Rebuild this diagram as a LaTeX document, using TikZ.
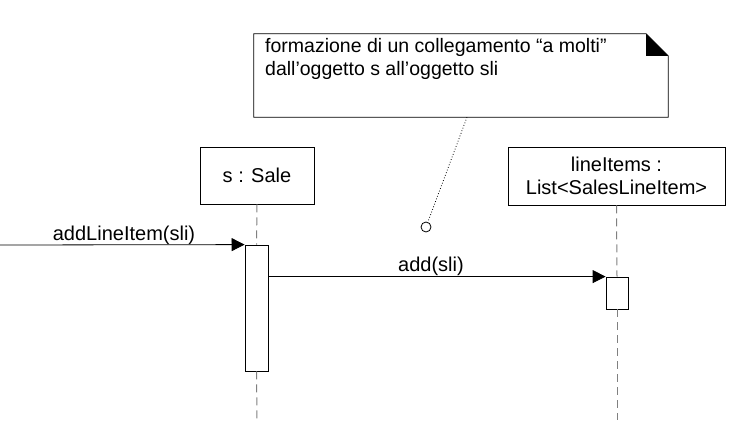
\documentclass[tikz,border=0pt]{standalone}
\usepackage{fontspec}
\setmainfont{Liberation Sans}
\usetikzlibrary{arrows.meta}
\begin{document}
\begin{tikzpicture}[x=1pt,y=-1pt,
  box/.style={draw,line width=0.8pt,fill=white,inner sep=0pt,align=center,font=\fontsize{20}{23}\selectfont},
  actbox/.style={draw,line width=0.8pt,fill=white,inner sep=0pt},
  life/.style={draw=gray,dash pattern=on 8pt off 5pt,line width=1pt},
  msg/.style={line width=0.8pt,-{Triangle[length=13pt,width=13pt]}},
  lbl/.style={font=\fontsize{20}{23}\selectfont,inner sep=0pt},
  notetxt/.style={font=\fontsize{19.5}{23}\selectfont,align=left,inner sep=0pt}]
\useasboundingbox (0,0) rectangle (733,428);
% objects
\node[box,minimum width=114pt,minimum height=57pt] (sale) at (257,175.5) {s : Sale};
\node[box,minimum width=217pt,minimum height=58pt] (li) at (616.5,176) {lineItems :\\List<SalesLineItem>};
% activations
\node[actbox,minimum width=23pt,minimum height=126pt] (act1) at (256.5,308) {};
\node[actbox,minimum width=22pt,minimum height=32pt] (act2) at (617,293) {};
\coordinate (l1end) at (257,420);
\coordinate (l2end) at (617,420);
% lifelines
\draw[life] (sale.south) -- (act1.north);
\draw[life] (act1.south) -- (l1end);
\draw[life] (li.south) -- (act2.north);
\draw[life] (act2.south) -- (l2end);
% messages
\coordinate (start) at (0,245);
\draw[msg] (start) -- (act1.north west);
\node[lbl] (m1) at (124,235) {addLineItem(sli)};
\coordinate (a1out) at (act1.east |- act2.north);
\draw[msg] (a1out) -- (act2.north west);
\node[lbl] (m2) at (431,266) {add(sli)};
% note
\node[minimum width=414pt,minimum height=83pt,inner sep=0pt] (note) at (461,75.5) {};
\draw[line width=0.8pt,fill=white] (note.north west) -- ([xshift=-22pt]note.north east) -- ([yshift=-22pt]note.north east) -- (note.south east) -- (note.south west) -- cycle;
\fill ([xshift=-22pt]note.north east) -- ([xshift=-22pt,yshift=-22pt]note.north east) -- ([yshift=-22pt]note.north east) -- cycle;
\node[notetxt,anchor=west] (nt) at (265,59) {formazione di un collegamento “a molti”\\dall’oggetto s all’oggetto sli};
\node[draw,circle,minimum size=10pt,inner sep=0pt,line width=0.8pt] (cir) at (426,227) {};
\draw[dotted,line width=0.8pt] ([xshift=6pt]note.south) -- (cir);
\end{tikzpicture}
\end{document}
